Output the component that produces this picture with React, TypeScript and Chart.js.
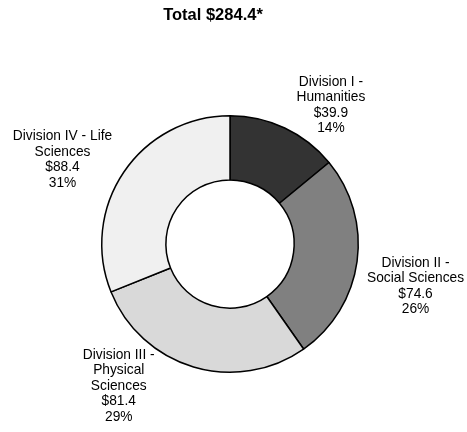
import React, { useEffect, useRef } from 'react';
import { Chart, registerables } from 'chart.js';

Chart.register(...registerables);

const categories: string[][] = [
  ['Division I -', 'Humanities'],
  ['Division II -', 'Social Sciences'],
  ['Division III -', 'Physical', 'Sciences'],
  ['Division IV - Life', 'Sciences'],
];
const values: number[] = [39.9, 74.6, 81.4, 88.4];
const titleText = 'Total $284.4*';
const colors: string[] = ['#333333', '#808080', '#d9d9d9', '#f0f0f0'];
const labelOffsets: number[][] = [
  [27, 18],
  [14, 19],
  [-62, -24],
  [-24, 12.5],
];

const FONT = '"Liberation Sans", Arial, sans-serif';

const labelPlugin = {
  id: 'outsideLabels',
  afterDraw(chart: any) {
    const ctx = chart.ctx;
    const meta = chart.getDatasetMeta(0);
    const total = values.reduce((a, b) => a + b, 0);
    ctx.save();
    ctx.fillStyle = '#000';
    ctx.textAlign = 'center';
    ctx.textBaseline = 'middle';
    meta.data.forEach((arc: any, i: number) => {
      const p = arc.getProps(['x', 'y', 'startAngle', 'endAngle', 'outerRadius'], true);
      const mid = (p.startAngle + p.endAngle) / 2;
      const r = p.outerRadius * 1.35;
      const cx = p.x + Math.cos(mid) * r + labelOffsets[i][0];
      const cy = p.y + Math.sin(mid) * r + labelOffsets[i][1];
      const lines = [
        ...categories[i],
        '$' + values[i].toFixed(1),
        Math.round((values[i] / total) * 100) + '%',
      ];
      const lh = 15.5;
      ctx.font = '13.75px ' + FONT;
      const startY = cy - ((lines.length - 1) * lh) / 2;
      lines.forEach((t, k) => ctx.fillText(t, cx, startY + k * lh));
    });
    // title
    const c = meta.data[0].getProps(['x'], true);
    ctx.font = 'bold 16.5px ' + FONT;
    ctx.fillText(titleText, c.x - 17, 15.5);
    ctx.restore();
  },
};

export default function App() {
  const ref = useRef<HTMLCanvasElement | null>(null);
  useEffect(() => {
    if (!ref.current) return;
    const chart = new Chart(ref.current, {
      type: 'doughnut',
      data: {
        labels: categories.map((c) => c.join(' ')),
        datasets: [
          {
            data: values,
            backgroundColor: colors,
            borderColor: '#000000',
            borderWidth: 1.5,
          },
        ],
      },
      options: {
        responsive: false,
        animation: false,
        cutout: '50%',
        layout: { padding: { left: 101, right: 108, top: 115, bottom: 59 } },
        plugins: {
          legend: { display: false },
          tooltip: { enabled: false },
          title: { display: false },
        },
      },
      plugins: [labelPlugin],
    });
    return () => chart.destroy();
  }, []);
  return (
    <div style={{ position: 'absolute', left: 0, top: 0, width: 467, height: 432, background: '#fff' }}>
      <canvas ref={ref} width={467} height={432} style={{ display: 'block' }} />
    </div>
  );
}
